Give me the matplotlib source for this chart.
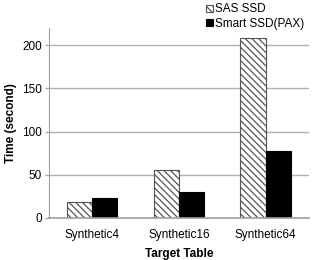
import matplotlib
matplotlib.use('Agg')
import matplotlib.pyplot as plt
import numpy as np

plt.rcParams['font.family'] = ['Liberation Sans', 'DejaVu Sans']
plt.rcParams['hatch.color'] = '#34477a'
plt.rcParams['hatch.linewidth'] = 0.9

tablas = ['Synthetic4', 'Synthetic16', 'Synthetic64']
sas_ssd = [18, 55, 208]
smart_pax = [22.5, 30, 78]

fig = plt.figure(figsize=(3.12, 2.6), dpi=100)
ax = fig.add_axes([0.157, 0.162, 0.833, 0.73])

x = np.arange(len(tablas))
w = 0.29
ax.bar(x - w/2, sas_ssd, w, color='white', edgecolor='#555555',
       linewidth=0.8, hatch='\\\\\\\\\\', label='SAS SSD')
ax.bar(x + w/2, smart_pax, w, color='black', edgecolor='black',
       linewidth=0.8, label='Smart SSD(PAX)')

ax.set_xlim(-0.5, 2.5)
ax.set_ylim(0, 220)
ax.set_yticks([0, 50, 100, 150, 200])
ax.yaxis.grid(True, color='#b0b0b0', linewidth=1)
ax.set_axisbelow(True)
ax.set_xticks(x)
ax.set_xticklabels(tablas, fontsize=8.5)
ax.tick_params(axis='y', labelsize=8.5, length=3, color='#a0a0a0', pad=2)
ax.tick_params(axis='x', length=0, pad=8)
for s in ['top', 'right']:
    ax.spines[s].set_visible(False)
ax.spines['left'].set_color('#a0a0a0')
ax.spines['bottom'].set_color('#a0a0a0')
ax.spines['bottom'].set_linewidth(1.2)

ax.set_ylabel('Time (second)', fontsize=8.5, fontweight='bold', labelpad=4)
ax.set_xlabel('Target Table', fontsize=8.5, fontweight='bold', labelpad=5)

fig.legend(loc='upper left', bbox_to_anchor=(0.645, 1.005), frameon=False,
           fontsize=8.5, handlelength=0.6, handleheight=0.6, handletextpad=0.2,
           labelspacing=0.2, borderaxespad=0)

plt.savefig('out.png', dpi=100)
